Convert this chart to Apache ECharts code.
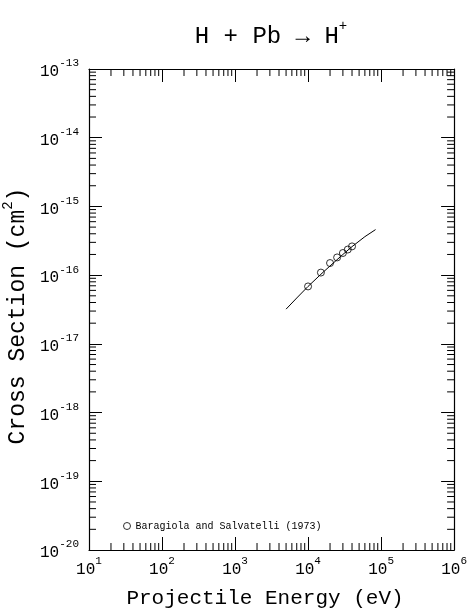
<!DOCTYPE html>
<html><head><meta charset="utf-8">
<script src="https://cdn.jsdelivr.net/npm/echarts@6/dist/echarts.min.js"></script>
<style>html,body{margin:0;padding:0;background:#fff}#c{width:470px;height:610px}</style>
</head><body><div id="c"></div>
<script>
// Data
const dataEnergy = [10000, 15000, 20000, 25000, 30000, 35000, 40000];
const dataCross = [6.85e-17, 1.09e-16, 1.5e-16, 1.81e-16, 2.1e-16, 2.36e-16, 2.62e-16];
const fitEnergy = [5000, 7000, 10000, 15000, 20000, 30000, 40000, 60000, 84000];
const fitCross = [3.2e-17, 4.65e-17, 6.85e-17, 1.03e-16, 1.36e-16, 2.0e-16, 2.6e-16, 3.63e-16, 4.6e-16];
const xExponents = [1, 2, 3, 4, 5, 6];
const yExponents = [-20, -19, -18, -17, -16, -15, -14, -13];
const seriesName = 'Baragiola and Salvatelli (1973)';
const titleMain = 'H + Pb \u2192 H';
const titleSup = '+';
const xName = 'Projectile Energy (eV)';
const yName = 'Cross Section (cm';

const FONT = 'Liberation Mono';
const xMin = Math.pow(10, xExponents[0]), xMax = Math.pow(10, xExponents[xExponents.length - 1]);
const yMin = Math.pow(10, yExponents[0]), yMax = Math.pow(10, yExponents[yExponents.length - 1]);

const xMinor = [], yMinor = [];
for (let i = 0; i < xExponents.length - 1; i++) for (let m = 2; m <= 9; m++) xMinor.push([m * Math.pow(10, xExponents[i]), yMin]);
for (let i = 0; i < yExponents.length - 1; i++) for (let m = 2; m <= 9; m++) yMinor.push([xMin, m * Math.pow(10, yExponents[i])]);

function expLabel(v) {
  const e = Math.round(Math.log10(v));
  return '{b|10}{s|' + e + '}';
}
const richLab = {
  b: { fontFamily: FONT, fontSize: 16, color: '#000', lineHeight: 22, verticalAlign: 'bottom' },
  s: { fontFamily: FONT, fontSize: 11, color: '#000', lineHeight: 22, verticalAlign: 'top' }
};

const chart = echarts.init(document.getElementById('c'), null, { renderer: 'canvas' });
const tickStyle = { color: '#000', width: 1 };
const axisBase = {
  axisLine: { show: true, lineStyle: { color: '#000', width: 1.2 } },
  axisTick: { show: true, inside: true, length: 13, lineStyle: tickStyle },
  splitLine: { show: false },
  minorTick: { show: false }
};

function minorRender(isX) {
  return function (params, api) {
    const v0 = api.value(0), v1 = api.value(1);
    if (isX) {
      const pb = api.coord([v0, yMin]), pt = api.coord([v0, yMax]);
      return { type: 'group', children: [
        { type: 'line', shape: { x1: pb[0], y1: pb[1], x2: pb[0], y2: pb[1] - 7 }, style: { stroke: '#000', lineWidth: 1 } },
        { type: 'line', shape: { x1: pt[0], y1: pt[1], x2: pt[0], y2: pt[1] + 7 }, style: { stroke: '#000', lineWidth: 1 } }
      ] };
    } else {
      const pl = api.coord([xMin, v1]), pr = api.coord([xMax, v1]);
      return { type: 'group', children: [
        { type: 'line', shape: { x1: pl[0], y1: pl[1], x2: pl[0] + 7, y2: pl[1] }, style: { stroke: '#000', lineWidth: 1 } },
        { type: 'line', shape: { x1: pr[0], y1: pr[1], x2: pr[0] - 7, y2: pr[1] }, style: { stroke: '#000', lineWidth: 1 } }
      ] };
    }
  };
}

chart.setOption({
  animation: false,
  backgroundColor: '#fff',
  textStyle: { fontFamily: FONT },
  grid: { left: 89, top: 69, width: 367, height: 481, containLabel: false },
  graphic: [
    { type: 'text', x: 271, y: 34, style: { text: '{m|' + titleMain + '}{s|' + titleSup + '}', align: 'center', verticalAlign: 'middle',
      rich: { m: { fontFamily: FONT, fontSize: 24, color: '#000', lineHeight: 30, verticalAlign: 'bottom' },
              s: { fontFamily: FONT, fontSize: 14, color: '#000', lineHeight: 30, verticalAlign: 'top' } } } },
    { type: 'text', x: 265, y: 598, style: { text: xName, fontFamily: FONT, fontSize: 21, fill: '#000', align: 'center', verticalAlign: 'middle' } },
    { type: 'text', x: 15, y: 316, rotation: Math.PI / 2, style: { text: '{m|' + yName + '}{s|2}{m|)}', align: 'center', verticalAlign: 'middle',
      rich: { m: { fontFamily: FONT, fontSize: 23, color: '#000', lineHeight: 28, verticalAlign: 'bottom' },
              s: { fontFamily: FONT, fontSize: 14, color: '#000', lineHeight: 28, verticalAlign: 'top' } } } }
  ],
  legend: {
    left: 118, top: 516, itemWidth: 7, itemHeight: 7, itemGap: 5,
    data: [{ name: seriesName, icon: 'circle' }],
    itemStyle: { color: 'rgba(0,0,0,0)', borderColor: '#000', borderWidth: 1 },
    textStyle: { fontFamily: FONT, fontSize: 10, color: '#000' }
  },
  xAxis: [
    Object.assign({ type: 'log', logBase: 10, min: xMin, max: xMax, position: 'bottom',
      axisLabel: { show: true, margin: 6, formatter: expLabel, rich: richLab } }, axisBase),
    Object.assign({ type: 'log', logBase: 10, min: xMin, max: xMax, position: 'top', axisLabel: { show: false } }, axisBase)
  ],
  yAxis: [
    Object.assign({ type: 'log', logBase: 10, min: yMin, max: yMax, position: 'left',
      axisLabel: { show: true, margin: 10, formatter: expLabel, rich: richLab } }, axisBase),
    Object.assign({ type: 'log', logBase: 10, min: yMin, max: yMax, position: 'right', axisLabel: { show: false } }, axisBase)
  ],
  series: [
    { type: 'custom', renderItem: minorRender(true), data: xMinor, clip: false, silent: true, z: 1 },
    { type: 'custom', renderItem: minorRender(false), data: yMinor, clip: false, silent: true, z: 1 },
    { type: 'line', data: fitEnergy.map((x, i) => [x, fitCross[i]]), showSymbol: false, symbol: 'none',
      lineStyle: { color: '#000', width: 1 }, silent: true, z: 2 },
    { type: 'scatter', name: seriesName, data: dataEnergy.map((x, i) => [x, dataCross[i]]), symbol: 'circle', symbolSize: 7,
      itemStyle: { color: 'rgba(0,0,0,0)', borderColor: '#000', borderWidth: 1 }, z: 3 }
  ]
});
</script></body></html>
